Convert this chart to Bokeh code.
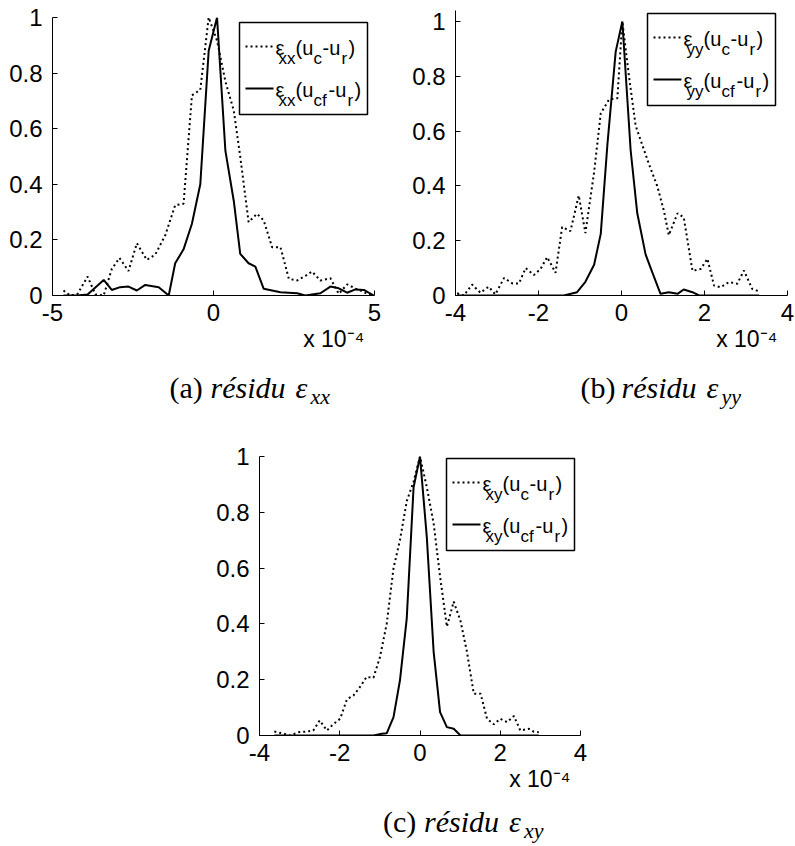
from bokeh.plotting import figure
from bokeh.models import (Label, BoxAnnotation, Arrow, Range1d, FixedTicker,
                          CustomJSTickFormatter, Spacer, Title)
from bokeh.layouts import column, row
from bokeh.embed import file_html
from bokeh.resources import INLINE

# ---------------- data (x in units of 1e-4) ----------------
y_ticks = [0, 0.2, 0.4, 0.6, 0.8, 1]
xa_ticks = [-5, 0, 5]
xb_ticks = [-4, -2, 0, 2, 4]
xc_ticks = [-4, -2, 0, 2, 4]
x_multiplier = "x 10⁻⁴"

# (a) residu eps_xx
a_c_x = [-4.66, -4.45, -4.22, -3.91, -3.67, -3.41, -3.16, -2.92, -2.64, -2.38, -2.07, -1.81,
         -1.50, -1.19, -0.93, -0.67, -0.41, -0.15, 0.11, 0.37, 0.63, 0.83, 1.09, 1.35, 1.56,
         1.82, 2.08, 2.34, 2.60, 2.85, 3.06, 3.32, 3.63, 3.89, 4.15, 4.41, 4.62, 4.88]
a_c_y = [0.018, 0.0, 0.006, 0.068, 0.004, 0.0, 0.095, 0.135, 0.088, 0.188, 0.128, 0.147,
         0.216, 0.325, 0.33, 0.72, 0.74, 1.0, 0.917, 0.77, 0.665, 0.50, 0.264, 0.294, 0.27,
         0.174, 0.174, 0.06, 0.054, 0.07, 0.086, 0.054, 0.062, 0.006, 0.04, 0.025, 0.015, 0.0]
a_cf_x = [-4.66, -4.24, -3.91, -3.41, -3.16, -2.90, -2.64, -2.38, -2.12, -1.70, -1.39, -1.19,
          -0.93, -0.67, -0.41, -0.15, 0.11, 0.37, 0.63, 0.83, 1.09, 1.30, 1.56, 2.08, 2.60,
          2.85, 3.32, 3.63, 3.89, 4.15, 4.41, 4.67, 4.98]
a_cf_y = [0.0, 0.0, 0.004, 0.056, 0.02, 0.03, 0.032, 0.018, 0.038, 0.03, 0.0, 0.116,
          0.166, 0.258, 0.40, 0.88, 1.0, 0.52, 0.34, 0.15, 0.116, 0.104, 0.024, 0.012, 0.008,
          0.0, 0.008, 0.032, 0.026, 0.01, 0.022, 0.02, 0.0]

# (b) residu eps_yy
b_c_x = [-3.96, -3.80, -3.60, -3.40, -3.20, -3.04, -2.83, -2.63, -2.47, -2.31, -2.11, -1.95,
         -1.79, -1.59, -1.43, -1.23, -1.03, -0.87, -0.66, -0.50, -0.30, -0.10, 0.02, 0.18,
         0.34, 0.50, 0.66, 0.86, 1.02, 1.14, 1.35, 1.50, 1.71, 1.91, 2.07, 2.23, 2.39, 2.59,
         2.79, 2.95, 3.15, 3.32]
b_c_y = [0.008, 0.0, 0.04, 0.01, 0.032, 0.004, 0.064, 0.044, 0.044, 0.10, 0.075, 0.097,
         0.14, 0.083, 0.25, 0.235, 0.365, 0.228, 0.45, 0.665, 0.715, 0.72, 1.0, 0.80,
         0.62, 0.55, 0.48, 0.40, 0.31, 0.22, 0.30, 0.285, 0.09, 0.097, 0.134, 0.036, 0.03,
         0.049, 0.043, 0.091, 0.024, 0.015]
b_cf_x = [-3.96, -1.39, -1.07, -0.87, -0.66, -0.50, -0.34, -0.14, 0.02, 0.22, 0.38, 0.58,
          0.74, 0.94, 1.14, 1.35, 1.50, 1.71, 1.87, 3.32]
b_cf_y = [0.0, 0.0, 0.012, 0.05, 0.112, 0.225, 0.55, 0.89, 1.0, 0.53, 0.30, 0.15,
          0.085, 0.006, 0.012, 0.006, 0.022, 0.012, 0.0, 0.0]

# (c) residu eps_xy
c_c_x = [-3.63, -3.44, -3.23, -3.03, -2.82, -2.66, -2.50, -2.32, -2.15, -1.99, -1.82, -1.66,
         -1.50, -1.33, -1.16, -1.00, -0.83, -0.66, -0.50, -0.33, -0.16, 0.00, 0.17, 0.34,
         0.50, 0.67, 0.84, 1.01, 1.17, 1.34, 1.51, 1.67, 1.84, 2.00, 2.17, 2.34, 2.50, 2.71,
         2.83, 2.96]
c_c_y = [0.014, 0.008, 0.0, 0.012, 0.014, 0.018, 0.054, 0.018, 0.042, 0.06, 0.13, 0.143,
         0.173, 0.21, 0.207, 0.28, 0.40, 0.60, 0.70, 0.84, 0.91, 1.0, 0.89, 0.76,
         0.57, 0.39, 0.48, 0.41, 0.30, 0.15, 0.15, 0.06, 0.04, 0.06, 0.048, 0.07, 0.018, 0.024,
         0.014, 0.012]
c_cf_x = [-3.63, -1.16, -0.95, -0.83, -0.66, -0.50, -0.33, -0.16, 0.00, 0.17, 0.34, 0.50,
          0.67, 0.84, 1.01, 2.96]
c_cf_y = [0.0, 0.0, 0.006, 0.008, 0.066, 0.197, 0.42, 0.89, 1.0, 0.71, 0.30, 0.084,
          0.03, 0.024, 0.0, 0.0]

FONT = "Liberation Sans"
SERIF = "Liberation Serif"
DOT = "2 3"
BASE_FIX = 0.4   # svg text baseline compensation (fraction of font size)


def base_fig(width, height, bl, br, bt, bb, xr, yr, xticks):
    p = figure(width=width, height=height, x_range=Range1d(*xr), y_range=Range1d(*yr),
               output_backend="svg", toolbar_location=None,
               min_border_left=bl, min_border_right=br, min_border_top=bt,
               min_border_bottom=bb)
    p.outline_line_color = None
    p.xgrid.visible = False
    p.ygrid.visible = False
    p.background_fill_color = "white"
    p.border_fill_color = "white"
    p.xaxis.ticker = FixedTicker(ticks=xticks)
    p.yaxis.ticker = FixedTicker(ticks=y_ticks)
    fmt = CustomJSTickFormatter(code="return String(Math.round(tick*10)/10);")
    for ax in (p.xaxis[0], p.yaxis[0]):
        ax.formatter = fmt
        ax.major_tick_in = 5
        ax.major_tick_out = 0
        ax.minor_tick_line_color = None
        ax.axis_line_color = "black"
        ax.axis_line_width = 1
        ax.major_tick_line_color = "black"
        ax.major_label_text_font = FONT
        ax.major_label_text_font_size = "24px"
        ax.major_label_text_color = "black"
    p.xaxis.major_label_standoff = 8
    p.yaxis.major_label_standoff = 10
    p.add_layout(Title(text=x_multiplier, align="right", offset=10, standoff=0,
                       text_font=FONT, text_font_size="23px", text_font_style="normal",
                       text_color="black"), "below")
    return p


def lab(p, FL, FB, wx, wy, text, size, font=FONT, style="normal"):
    p.add_layout(Label(x=wx - FL, y=FB - wy + BASE_FIX * size, x_units="screen",
                       y_units="screen", text=text, text_font=font,
                       text_font_size=f"{size}px", text_font_style=style,
                       text_color="black", text_align="left",
                       text_baseline="alphabetic"))


def legend(p, FL, FB, ex, y1, y2, sub):
    sx = lambda wx: wx - FL
    sy = lambda wy: FB - wy
    p.add_layout(BoxAnnotation(left=sx(ex - 36), right=sx(ex + 92),
                               top=sy(y1 - 24), bottom=sy(y2 + 26),
                               left_units="screen", right_units="screen",
                               top_units="screen", bottom_units="screen",
                               fill_color="white", fill_alpha=1.0,
                               line_color="black", line_alpha=1.0, line_width=1.5))
    p.add_layout(Arrow(end=None, x_start=sx(ex - 30), y_start=sy(y1), x_end=sx(ex - 2),
                       y_end=sy(y1), start_units="screen", end_units="screen",
                       line_color="black", line_width=2, line_dash=DOT))
    p.add_layout(Arrow(end=None, x_start=sx(ex - 30), y_start=sy(y2), x_end=sx(ex - 2),
                       y_end=sy(y2), start_units="screen", end_units="screen",
                       line_color="black", line_width=2))
    M, S = 20, 17
    rows = [
        (y1, [("ε", 0, 0, M), (sub, 3, 1, S), ("(u", 20, 0, M), ("c", 38, 1, S),
              ("-u", 47, 0, M), ("r", 66, 1, S), (")", 73, 0, M)]),
        (y2, [("ε", 0, 0, M), (sub, 3, 1, S), ("(u", 20, 0, M), ("cf", 38, 1, S),
              ("-u", 53, 0, M), ("r", 72, 1, S), (")", 79, 0, M)]),
    ]
    for ly, pieces in rows:
        for txt, dx, is_sub, size in pieces:
            base = ly + (19 if is_sub else 9.5)
            lab(p, FL, FB, ex + dx, base, txt, size)


def caption_fig(width, height, x0, base, letter, sub):
    c = figure(width=width, height=height, x_range=Range1d(0, width),
               y_range=Range1d(0, height), x_axis_type=None, y_axis_type=None,
               output_backend="svg", toolbar_location=None,
               min_border_left=0, min_border_right=0, min_border_top=0, min_border_bottom=0)
    c.outline_line_color = None
    c.background_fill_color = "white"
    c.border_fill_color = "white"
    FB = height
    lab(c, 0, FB, x0, base, f"({letter})", 30, SERIF)
    lab(c, 0, FB, x0 + 41, base, "résidu", 30, SERIF, "italic")
    lab(c, 0, FB, x0 + 126, base, "ε", 30, SERIF, "italic")
    lab(c, 0, FB, x0 + 141, base + 6, sub, 22, SERIF, "italic")
    return c


def curves(p, cx, cy, fx, fy):
    p.line(cx, cy, line_color="black", line_width=2, line_dash=DOT)
    p.line(fx, fy, line_color="black", line_width=2)


# (a): page frame 52..374 x 17..295 ; figure at (0,0) 400x372
pa = base_fig(400, 372, 52, 26, 17, 77, (-5, 5), (0, 1), xa_ticks)
curves(pa, a_c_x, a_c_y, a_cf_x, a_cf_y)
legend(pa, 52, 295, 275, 46, 88, "xx")
cap_a = caption_fig(400, 48, (52 + 374) / 2 - 96, 27, "a", "xx")

# (b): page frame 455..787 x 10..295 ; figure at (400,0) 395x372
pb = base_fig(395, 372, 55, 8, 10, 77, (-4, 4), (0, 1.04), xb_ticks)
curves(pb, b_c_x, b_c_y, b_cf_x, b_cf_y)
legend(pb, 455, 295, 683, 37, 79, "yy")
cap_b = caption_fig(395, 48, (455 + 787) / 2 - 96 - 400, 27, "b", "yy")

# (c): page frame 259..580 x 456..735 ; figure at (200,420) 400x380
pc = base_fig(400, 380, 59, 20, 36, 65, (-4, 4), (0, 1), xc_ticks)
curves(pc, c_c_x, c_c_y, c_cf_x, c_cf_y)
legend(pc, 259, 735, 482, 482, 524, "xy")
cap_c = caption_fig(400, 45, (259 + 580) / 2 - 96 - 200, 33, "c", "xy")

layout = column(
    row(column(pa, cap_a), column(pb, cap_b)),
    row(Spacer(width=200, height=425), column(pc, cap_c)),
)

open("out.html", "w").write(file_html(layout, INLINE))
